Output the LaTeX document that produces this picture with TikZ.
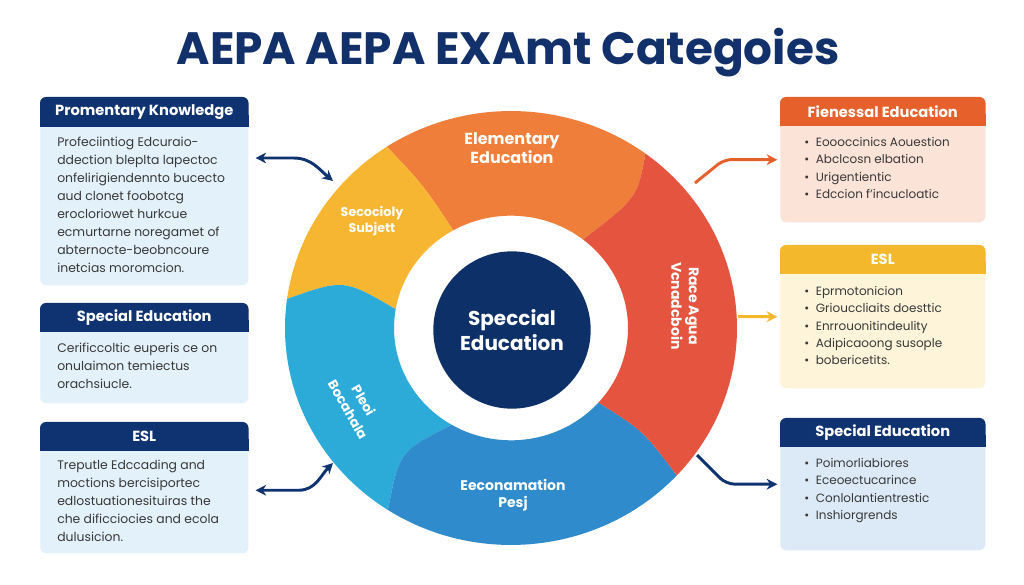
\documentclass[tikz,border=0pt]{standalone}
\usepackage{fontspec}
\setmainfont{Poppins}
\usetikzlibrary{arrows.meta,calc}

\definecolor{titlenavy}{HTML}{12306A}
\definecolor{navy}{HTML}{0F3370}
\definecolor{centernavy}{HTML}{0E3068}
\definecolor{segorange}{HTML}{EE7E3A}
\definecolor{segred}{HTML}{E4543F}
\definecolor{segyellow}{HTML}{F6B631}
\definecolor{segcyan}{HTML}{2CAAD8}
\definecolor{segblue}{HTML}{2F8BCC}
\definecolor{paleblue}{HTML}{E3F1FA}
\definecolor{rightblue}{HTML}{DCEAF7}
\definecolor{peach}{HTML}{FCE3D8}
\definecolor{cream}{HTML}{FDF4DA}
\definecolor{headorange}{HTML}{E5602A}
\definecolor{headyellow}{HTML}{F3B82C}
\definecolor{bodygray}{HTML}{383838}

\tikzstyle{title}=[text=titlenavy,font=\bfseries\fontsize{34}{38}\selectfont,inner sep=0pt]
\tikzstyle{headtext}=[text=white,font=\bfseries\fontsize{11}{13}\selectfont,inner sep=0pt]
\tikzstyle{bodytext}=[text=bodygray,font=\fontsize{9.3}{13.5}\selectfont,align=left,anchor=north west,inner sep=0pt]
\tikzstyle{bullettext}=[text=bodygray,font=\fontsize{9}{13}\selectfont,align=left,anchor=north west,inner sep=0pt]
\tikzstyle{boxbody}=[rectangle,rounded corners=4.5pt,anchor=north west,inner sep=0pt]
\tikzstyle{seglabel}=[text=white,font=\bfseries\fontsize{12}{14}\selectfont,align=center,inner sep=0pt]
\tikzstyle{navyarrow}=[draw=navy,line width=2.2pt,-{Stealth[length=8pt,width=8pt]},shorten >=2pt]
\tikzstyle{dblnavyarrow}=[draw=navy,line width=2.2pt,{Stealth[length=8pt,width=8pt]}-{Stealth[length=8pt,width=8pt]}]
\tikzstyle{orangearrow}=[draw=headorange,line width=2.2pt,-{Stealth[length=8pt,width=8pt]},shorten >=2pt]
\tikzstyle{yellowarrow}=[draw=headyellow,line width=2.2pt,-{Stealth[length=8pt,width=8pt]},shorten >=2pt]

\newcommand{\bul}{\textbullet\hspace{5pt}}

\begin{document}
\begin{tikzpicture}[x=0.75pt,y=0.75pt]
\useasboundingbox (0,0) rectangle (1024,585);
\fill[white] (0,0) rectangle (1024,585);

\node[title] (title) at (508,532) {AEPA AEPA EXAmt Categoies};

% the ring of segments
\begin{scope}[shift={(511,257)},yscale=0.96]
% orange segment (top)
\fill[segorange] (53.5:226) arc[start angle=53.5,end angle=123.3,radius=226] .. controls (120.5:172) .. (119.6:117) arc[start angle=119.6,end angle=52,radius=117] .. controls (47:185) .. (53.5:226) -- cycle;
% yellow segment
\fill[segyellow] (123.3:226) arc[start angle=123.3,end angle=172.3,radius=226] .. controls (163:175) .. (170.4:117) arc[start angle=170.4,end angle=119.6,radius=117] .. controls (120.5:172) .. (123.3:226) -- cycle;
% cyan segment
\fill[segcyan] (172.3:226) arc[start angle=172.3,end angle=237,radius=226] .. controls (229:170) .. (239.6:117) arc[start angle=239.6,end angle=170.4,radius=117] .. controls (163:175) .. (172.3:226) -- cycle;
% blue segment (bottom)
\fill[segblue] (237:226) arc[start angle=237,end angle=317.2,radius=226] .. controls (321:170) .. (318.4:117) arc[start angle=318.4,end angle=239.6,radius=117] .. controls (229:170) .. (237:226) -- cycle;
% red segment (right)
\fill[segred] (-42.8:226) arc[start angle=-42.8,end angle=53.5,radius=226] .. controls (47:185) .. (52:117) arc[start angle=52,end angle=-41.6,radius=117] .. controls (-39:170) .. (-42.8:226) -- cycle;
\end{scope}

\node[circle,fill=centernavy,minimum size=118pt,inner sep=0pt,text=white,font=\bfseries\fontsize{15}{18.75}\selectfont,align=center] (center) at (512,255) {Speccial\\Education};

% segment labels
\node[seglabel] (elem-label) at (512,437) {Elementary\\Education};
\node[seglabel,font=\bfseries\fontsize{9.5}{11.75}\selectfont] (soc-label) at (372,364) {Secocioly\\Subjett};
\node[seglabel,font=\bfseries\fontsize{10.5}{13}\selectfont,rotate=-90] (race-label) at (685,279) {Race Agua\\Vcnadcboin};
\node[seglabel,font=\bfseries\fontsize{10}{13.5}\selectfont,rotate=-60] (pleo-label) at (356,180) {Pleoi\\Bocahala};
\node[seglabel,font=\bfseries\fontsize{10.5}{13}\selectfont] (econ-label) at (513,90) {Eeconamation\\Pesj};

% ends of the connectors on the ring
\coordinate (ring-nw) at (333,404);
\coordinate (ring-sw) at (333,122);
\coordinate (ring-ne) at (695,402);
\coordinate (ring-e) at (738,268.5);
\coordinate (ring-se) at (697,130);

% box: Promentary Knowledge
\node[boxbody,fill=paleblue,minimum width=156pt,minimum height=141pt] (know-box) at (40,488) {};
\fill[navy,rounded corners=4.5pt] (know-box.north west) rectangle ($(know-box.north east)+(0,-30)$);
\fill[navy] ($(know-box.north west)+(0,-18)$) rectangle ($(know-box.north east)+(0,-30)$);
\node[headtext] (know-head) at ($(know-box.north)+(0,-15)$) {Promentary Knowledge};
\node[bodytext] (know-text) at (57,448) {Profeciintiog Edcuraio-\\ddection bleplta lapectoc\\onfelirigiendennto bucecto\\aud clonet foobotcg\\erocloriowet hurkcue\\ecmurtarne noregamet of\\abternocte-beobncoure\\inetcias moromcion.};

% box: Special Education (left)
\node[boxbody,fill=paleblue,minimum width=156pt,minimum height=75pt] (spec-l-box) at (40,282) {};
\fill[navy,rounded corners=4.5pt] (spec-l-box.north west) rectangle ($(spec-l-box.north east)+(0,-29)$);
\fill[navy] ($(spec-l-box.north west)+(0,-17)$) rectangle ($(spec-l-box.north east)+(0,-29)$);
\node[headtext] (spec-l-head) at ($(spec-l-box.north)+(0,-14.5)$) {Special Education};
\node[bodytext] (spec-l-text) at (57,242) {Cerificcoltic euperis ce on\\onulaimon temiectus\\orachsiucle.};

% box: ESL (left)
\node[boxbody,fill=paleblue,minimum width=156pt,minimum height=98.25pt] (esl-l-box) at (40,163) {};
\fill[navy,rounded corners=4.5pt] (esl-l-box.north west) rectangle ($(esl-l-box.north east)+(0,-29)$);
\fill[navy] ($(esl-l-box.north west)+(0,-17)$) rectangle ($(esl-l-box.north east)+(0,-29)$);
\node[headtext] (esl-l-head) at ($(esl-l-box.north)+(0,-14.5)$) {ESL};
\node[bodytext] (esl-l-text) at (57,125) {Treputle Edccading and\\moctions bercisiportec\\edlostuationesituiras the\\che dificciocies and ecola\\dulusicion.};

% box: Fienessal Education (right)
\node[boxbody,fill=peach,minimum width=153.75pt,minimum height=93.75pt] (fien-box) at (780,488) {};
\fill[headorange,rounded corners=4.5pt] (fien-box.north west) rectangle ($(fien-box.north east)+(0,-29)$);
\fill[headorange] ($(fien-box.north west)+(0,-17)$) rectangle ($(fien-box.north east)+(0,-29)$);
\node[headtext] (fien-head) at ($(fien-box.north)+(0,-14.5)$) {Fienessal Education};
\node[bullettext] (fien-text) at (804,448) {\bul Eoooccinics Aouestion\\\bul Abclcosn elbation\\\bul Urigentientic\\\bul Edccion f'incucloatic};

% box: ESL (right)
\node[boxbody,fill=cream,minimum width=153.75pt,minimum height=107.25pt] (esl-r-box) at (780,340) {};
\fill[headyellow,rounded corners=4.5pt] (esl-r-box.north west) rectangle ($(esl-r-box.north east)+(0,-29)$);
\fill[headyellow] ($(esl-r-box.north west)+(0,-17)$) rectangle ($(esl-r-box.north east)+(0,-29)$);
\node[headtext] (esl-r-head) at ($(esl-r-box.north)+(0,-14.5)$) {ESL};
\node[bullettext] (esl-r-text) at (804,299) {\bul Eprmotonicion\\\bul Griouccliaits doesttic\\\bul Enrrouonitindeulity\\\bul Adipicaoong susople\\\bul bobericetits.};

% box: Special Education (right)
\node[boxbody,fill=rightblue,minimum width=153.75pt,minimum height=99pt] (spec-r-box) at (780,167) {};
\fill[navy,rounded corners=4.5pt] (spec-r-box.north west) rectangle ($(spec-r-box.north east)+(0,-29)$);
\fill[navy] ($(spec-r-box.north west)+(0,-17)$) rectangle ($(spec-r-box.north east)+(0,-29)$);
\node[headtext] (spec-r-head) at ($(spec-r-box.north)+(0,-14.5)$) {Special Education};
\node[bullettext] (spec-r-text) at (804,127) {\bul Poimorliabiores\\\bul Eceoectucarince\\\bul Conlolantientrestic\\\bul Inshiorgrends};

% connectors
\draw[dblnavyarrow] ($(know-box.north east)+(7,-61)$) -- ++(38,0) to[out=0,in=140] (ring-nw);
\draw[dblnavyarrow] ($(esl-l-box.east)+(7,-2.5)$) -- ++(43,0) to[out=0,in=-135] (ring-sw);
\draw[orangearrow,rounded corners=6pt] (ring-ne) -- (724,425.5) -- (fien-box.west);
\draw[yellowarrow] (ring-e) -- (esl-r-box.west);
\draw[navyarrow,rounded corners=6pt] (ring-se) -- (726,101) -- (spec-r-box.west);

\end{tikzpicture}
\end{document}
